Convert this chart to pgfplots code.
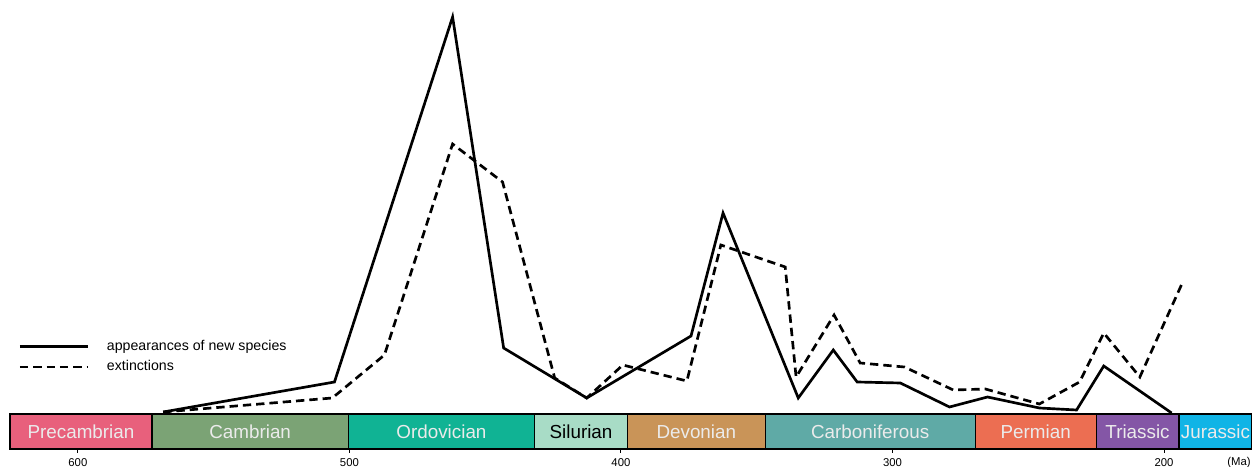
\documentclass[border=0pt]{standalone}
\usepackage{fontspec}
\setmainfont{Liberation Sans}
\usepackage{pgfplots}
\pgfplotsset{compat=1.18}
\definecolor{cPre}{HTML}{E8607C}
\definecolor{cCam}{HTML}{7BA375}
\definecolor{cOrd}{HTML}{10B394}
\definecolor{cSil}{HTML}{A8DCC6}
\definecolor{cDev}{HTML}{C99458}
\definecolor{cCar}{HTML}{5FAAA6}
\definecolor{cPer}{HTML}{EC6E52}
\definecolor{cTri}{HTML}{8456A6}
\definecolor{cJur}{HTML}{10B4E6}
\begin{document}
\begin{tikzpicture}
\useasboundingbox (0,0) rectangle (751.2pt,280.2pt);
\begin{axis}[
  at={(6pt,10.8pt)}, anchor=south west,
  scale only axis, width=745.2pt, height=269.4pt,
  xmin=167.6, xmax=625.0, x dir=reverse,
  ymin=-36, ymax=413,
  axis x line*=bottom, axis y line=none,
  x axis line style={-, line width=0.6pt},
  xtick={600,500,400,300,200}, ytick=\empty,
  tick align=outside, major tick length=2.4pt,
  tick style={line width=0.6pt, black},
  xticklabel style={font=\fontsize{6.8}{8}\selectfont},
  /pgf/number format/assume math mode=true,
  clip=false,
  legend image code/.code={\draw[#1] (0pt,0pt) -- (41pt,0pt);},
  legend cell align=left,
  legend style={at={(rel axis cs:0.0067,0.247)}, anchor=north west,
    draw=none, fill=none, inner sep=0pt,
    font=\fontsize{8.5}{10}\selectfont,
    nodes={inner sep=1pt},
    /tikz/column sep=9.4pt, /tikz/row sep=2.7pt},
]
\addplot[black, line width=1.6pt] coordinates {
(568.6,1) (505.5,31) (462.0,396) (443.2,65) (412.6,15) (374.2,77) (362.4,200)
(334.7,15) (321.8,63) (313.0,31) (297.1,30) (279.0,6) (265.0,16) (245.9,5)
(232.2,3) (222.2,47) (197.2,0)};
\addlegendentry{appearances of new species}
\addplot[black, line width=1.6pt, dash pattern=on 5pt off 3pt] coordinates {
(568.6,1) (506.3,15) (487.1,58) (462.0,269) (443.6,231) (424.4,35) (412.6,15)
(399.3,48) (375.7,32) (363.2,168) (339.5,146) (335.5,36) (321.5,98) (311.9,50)
(295.6,46) (277.6,23) (265.8,24) (245.9,9) (231.1,31) (222.2,80) (208.9,36)
(193.1,131)};
\addlegendentry{extinctions}
\begin{scope}[line width=0.7pt]
\draw[fill=cPre] (axis cs:625.0,-36) rectangle (axis cs:572.7,-1);
\draw[fill=cCam] (axis cs:572.7,-36) rectangle (axis cs:500.4,-1);
\draw[fill=cOrd] (axis cs:500.4,-36) rectangle (axis cs:431.8,-1);
\draw[fill=cSil] (axis cs:431.8,-36) rectangle (axis cs:397.6,-1);
\draw[fill=cDev] (axis cs:397.6,-36) rectangle (axis cs:346.9,-1);
\draw[fill=cCar] (axis cs:346.9,-36) rectangle (axis cs:269.5,-1);
\draw[fill=cPer] (axis cs:269.5,-36) rectangle (axis cs:225.0,-1);
\draw[fill=cTri] (axis cs:225.0,-36) rectangle (axis cs:194.5,-1);
\draw[fill=cJur] (axis cs:194.5,-36) rectangle (axis cs:167.6,-1);
\end{scope}
\begin{scope}[every node/.style={font=\fontsize{11.3}{13}\selectfont, text=white!92!black}]
\node at (axis cs:598.85,-18.5) {Precambrian};
\node at (axis cs:536.55,-18.5) {Cambrian};
\node at (axis cs:466.1,-18.5) {Ordovician};
\node[text=black] at (axis cs:414.7,-18.5) {Silurian};
\node at (axis cs:372.25,-18.5) {Devonian};
\node at (axis cs:308.2,-18.5) {Carboniferous};
\node at (axis cs:247.25,-18.5) {Permian};
\node at (axis cs:209.75,-18.5) {Triassic};
\node at (axis cs:181.05,-18.5) {Jurassic};
\end{scope}
\node[anchor=north east, inner sep=0pt, yshift=-4.6pt, xshift=-0.6pt, font=\fontsize{6.8}{8}\selectfont] at (rel axis cs:1,0) {(Ma)};
\end{axis}
\end{tikzpicture}
\end{document}
